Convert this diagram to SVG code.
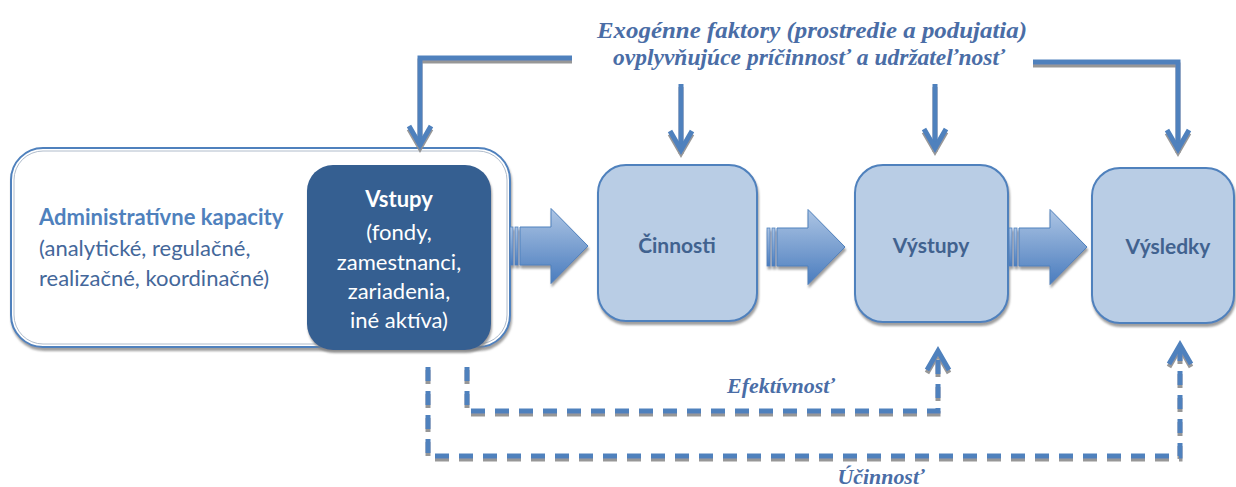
<svg xmlns="http://www.w3.org/2000/svg" width="1236" height="487" viewBox="0 0 1236 487">
  <defs>
    <style>
      .node { fill: #B9CDE5; stroke: #4F81BD; stroke-width: 2; }
      .lbl { font-family: Lato, "Liberation Sans", sans-serif; font-weight: bold; font-size: 21px; fill: #41628F; text-anchor: middle; }
      .vst { font-family: Lato, "Liberation Sans", sans-serif; font-size: 22px; fill: #FFFFFF; text-anchor: middle; }
      .adm { font-family: Lato, "Liberation Sans", sans-serif; font-size: 22px; fill: #44679A; }
      .ital { font-family: "Liberation Serif", serif; font-style: italic; font-weight: bold; fill: #4A6DA6; text-anchor: middle; }
      .feed { fill: none; stroke: #4F81BD; stroke-width: 5; }
      .dash { fill: none; stroke: #4F81BD; stroke-width: 5; stroke-dasharray: 14 10; }
    </style>
    <filter id="shadow" x="-10%" y="-10%" width="125%" height="130%">
      <feDropShadow dx="1" dy="3" stdDeviation="1" flood-color="#7F7F7F" flood-opacity="0.75"/>
    </filter>
    <filter id="lineShadow" x="-5%" y="-20%" width="115%" height="150%">
      <feDropShadow dx="0" dy="3" stdDeviation="0.4" flood-color="#8C8C8C" flood-opacity="0.9"/>
    </filter>
    <linearGradient id="blockGrad" x1="0" y1="0" x2="0" y2="1">
      <stop offset="0" stop-color="#ADC5E4"/>
      <stop offset="1" stop-color="#4A7CBE"/>
    </linearGradient>
    <marker id="chev" viewBox="-26 -14 30 28" refX="0" refY="0" markerWidth="30" markerHeight="28" markerUnits="userSpaceOnUse" orient="auto">
      <path d="M-20,-11 L-1,0 L-20,11" fill="none" stroke="#4F81BD" stroke-width="5"/>
    </marker>
    <!-- striped block arrow, origin at left edge / vertical centre -->
    <g id="blockArrow">
      <rect x="0" y="-19" width="3" height="38" fill="url(#blockGrad)" stroke="#4F81BD" stroke-width="0.8"/>
      <rect x="5" y="-19" width="3" height="38" fill="url(#blockGrad)" stroke="#4F81BD" stroke-width="0.8"/>
      <path d="M10,-19 H41 V-37.5 L78,0 L41,37.5 V19 H10 Z" fill="url(#blockGrad)" stroke="#4F81BD" stroke-width="1"/>
    </g>
  </defs>

  <!-- exogenous factors caption -->
  <g id="exogenous">
    <text class="ital" font-size="23" x="812" y="38" textLength="430" lengthAdjust="spacingAndGlyphs">Exogénne faktory (prostredie a podujatia)</text>
    <text class="ital" font-size="23" x="809" y="65" textLength="392" lengthAdjust="spacingAndGlyphs">ovplyvňujúce príčinnosť a udržateľnosť</text>
  </g>

  <!-- administrative capacity frame -->
  <g id="admin" filter="url(#shadow)">
    <rect x="11" y="148" width="499" height="199" rx="32" fill="#FFFFFF" stroke="#4F81BD" stroke-width="2"/>
    <rect x="14" y="151" width="493" height="193" rx="29" fill="none" stroke="#B0BCCB" stroke-width="1"/>
  </g>
  <g id="admin-text">
    <text class="adm" x="39" y="225" font-weight="bold" style="fill:#4F81BD">Administratívne kapacity</text>
    <text class="adm" x="39" y="256">(analytické, regulačné,</text>
    <text class="adm" x="39" y="286">realizačné, koordinačné)</text>
  </g>

  <!-- inputs -->
  <g id="vstupy">
    <rect x="307" y="165" width="184" height="185" rx="26" fill="#365F91" filter="url(#shadow)"/>
    <text class="vst" x="399" y="207" font-weight="bold">Vstupy</text>
    <text class="vst" x="399" y="240">(fondy,</text>
    <text class="vst" x="399" y="270">zamestnanci,</text>
    <text class="vst" x="399" y="299">zariadenia,</text>
    <text class="vst" x="399" y="328">iné aktíva)</text>
  </g>

  <g id="cinnosti">
    <rect class="node" x="598" y="165" width="159" height="156" rx="28" filter="url(#shadow)"/>
    <text class="lbl" x="677" y="253">Činnosti</text>
  </g>

  <g id="vystupy">
    <rect class="node" x="855" y="165" width="153" height="157" rx="28" filter="url(#shadow)"/>
    <text class="lbl" x="931" y="253">Výstupy</text>
  </g>

  <g id="vysledky">
    <rect class="node" x="1092" y="168" width="142" height="155" rx="28" filter="url(#shadow)"/>
    <text class="lbl" x="1168" y="254">Výsledky</text>
  </g>

  <!-- connectors -->
  <g id="connectors">
    <!-- process flow -->
    <g filter="url(#shadow)">
      <use href="#blockArrow" x="510" y="246"/>
      <use href="#blockArrow" x="767" y="247"/>
      <use href="#blockArrow" x="1009" y="247"/>
    </g>

    <!-- exogenous influences -->
    <g filter="url(#lineShadow)">
      <path class="feed" d="M572,58 H420 V146" marker-end="url(#chev)"/>
      <path class="feed" d="M1033,62 H1178 V150" marker-end="url(#chev)"/>
      <path class="feed" d="M681,84 V151" marker-end="url(#chev)"/>
      <path class="feed" d="M935,84 V149" marker-end="url(#chev)"/>
    </g>

    <!-- efficiency / effectiveness loops -->
    <g filter="url(#lineShadow)">
      <path class="dash" d="M467,367 V411 H938 V350" marker-end="url(#chev)"/>
      <path class="dash" d="M428,367 V456 H1180 V344" marker-end="url(#chev)"/>
    </g>
    <text class="ital" font-size="22" x="781" y="393" textLength="108" lengthAdjust="spacingAndGlyphs">Efektívnosť</text>
    <text class="ital" font-size="22" x="881" y="484" textLength="87" lengthAdjust="spacingAndGlyphs">Účinnosť</text>
  </g>
</svg>
